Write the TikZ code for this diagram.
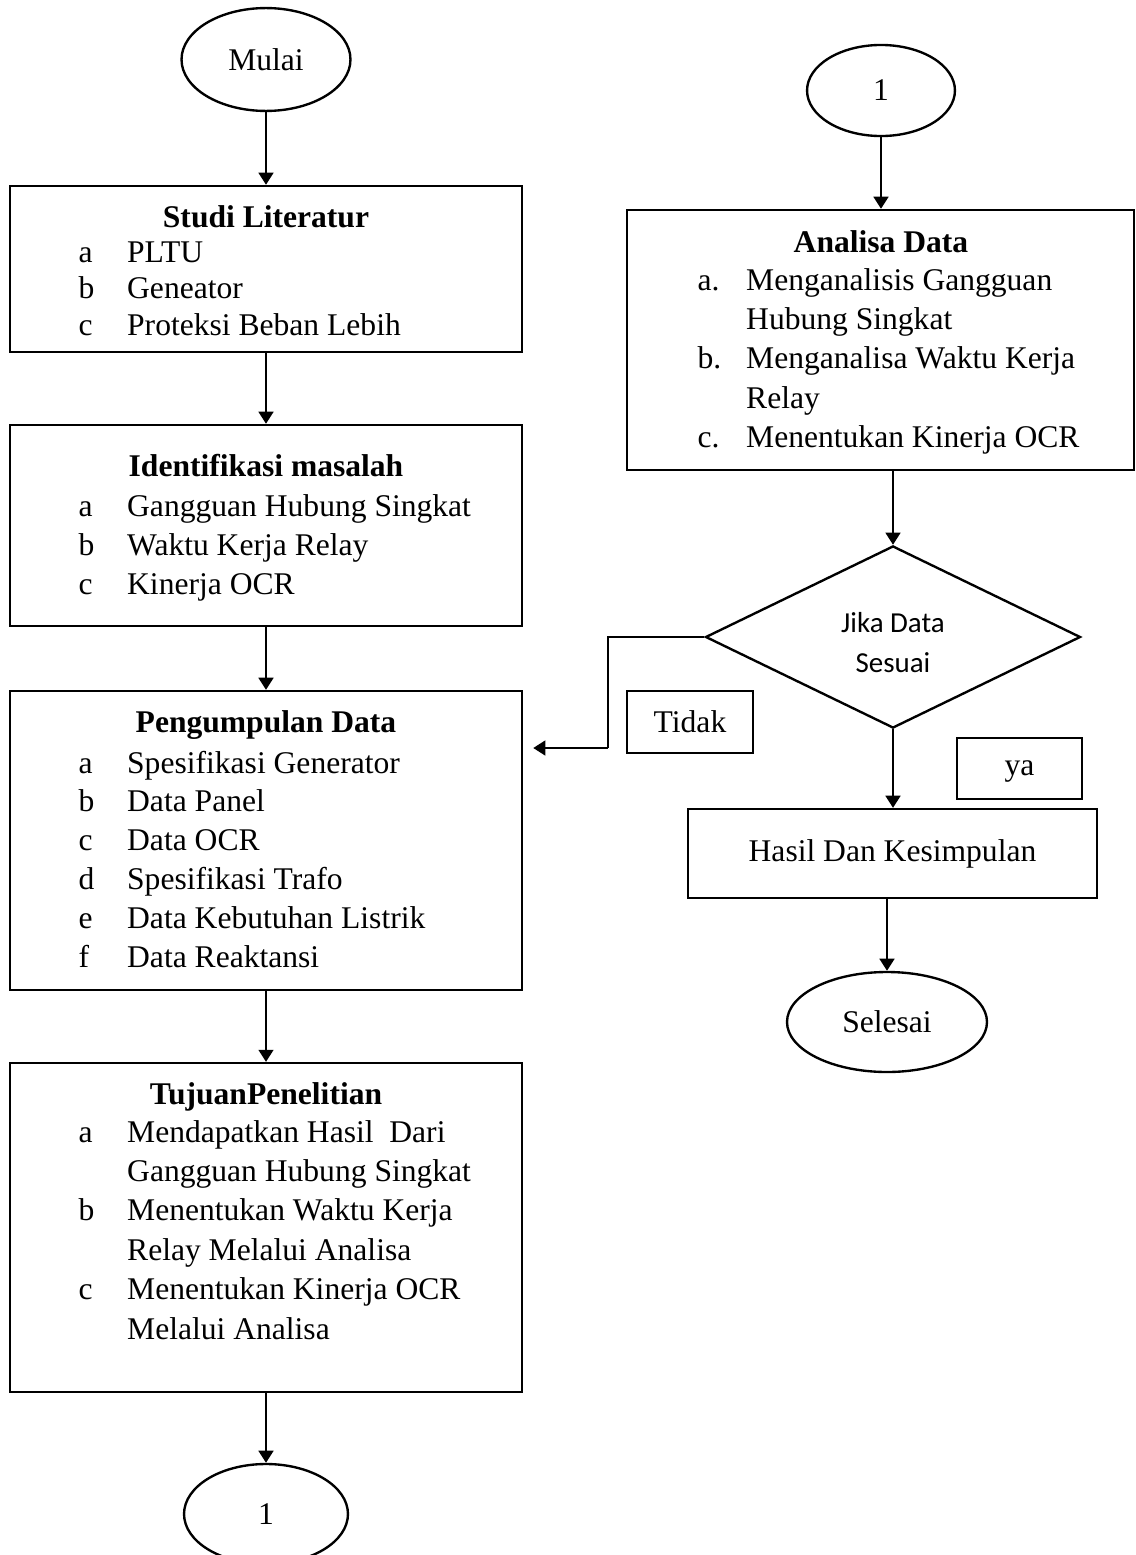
\documentclass[tikz,border=0pt]{standalone}
\usepackage{fontspec}
\setmainfont{Liberation Serif}
\newfontfamily\calibrifont{Carlito}
\usetikzlibrary{positioning,arrows.meta,shapes.geometric,calc}
\tikzset{
  procbox/.style={draw,line width=0.9pt,rectangle,inner sep=0pt,minimum width=194.6pt},
  termnode/.style={draw,line width=0.9pt,ellipse,inner sep=0pt,font=\fontsize{12}{14}\selectfont},
  decnode/.style={draw,line width=0.9pt,diamond,inner sep=0pt,align=center,font=\calibrifont\fontsize{11}{15.2}\selectfont},
  tagbox/.style={draw,line width=0.9pt,rectangle,inner sep=0pt,font=\fontsize{12}{14}\selectfont},
  boxtitle/.style={anchor=base,inner sep=0pt,font=\fontsize{12}{14}\selectfont\bfseries},
  boxlist/.style={anchor=base west,inner sep=0pt,font=\fontsize{12}{#1}\selectfont},
  flowarrow/.style={-{Triangle[length=4.6pt,width=5.6pt]},line width=0.9pt},
  backline/.style={line width=0.4pt}
}
\newcommand{\itemrows}[1]{\begin{tabular}[t]{@{}p{18.5pt}@{}l@{}}#1\end{tabular}}

\begin{document}
\begin{tikzpicture}[x=0.38pt,y=-0.38pt]
  \useasboundingbox (0,0) rectangle (1136,1555);
  % left column
  \node[termnode,minimum width=64.2pt,minimum height=39.1pt] (mulai) at (266,59.5) {Mulai};
  \node[procbox,minimum height=63.1pt] (studi) at (266,269) {};
  \node[boxtitle] (studititle) at (266,227) {Studi Literatur};
  \node[boxlist=13.9pt] (studilist) at (78,262) {\itemrows{a & PLTU\\ b & Geneator\\ c & Proteksi Beban Lebih}};
  \node[procbox,minimum height=76.4pt] (ident) at (266,525.5) {};
  \node[boxtitle] (identtitle) at (266,476) {Identifikasi masalah};
  \node[boxlist=15pt] (identlist) at (78,516) {\itemrows{a & Gangguan Hubung Singkat\\ b & Waktu Kerja Relay\\ c & Kinerja OCR}};
  \node[procbox,minimum height=113.6pt] (kumpul) at (266,840.5) {};
  \node[boxtitle] (kumpultitle) at (266,732) {Pengumpulan Data};
  \node[boxlist=14.8pt] (kumpullist) at (78,773) {\itemrows{a & Spesifikasi Generator\\ b & Data Panel\\ c & Data OCR\\ d & Spesifikasi Trafo\\ e & Data Kebutuhan Listrik\\ f & Data Reaktansi}};
  \node[procbox,minimum height=125pt] (tujuan) at (266,1227.5) {};
  \node[boxtitle] (tujuantitle) at (266,1104) {TujuanPenelitian};
  \node[boxlist=15pt] (tujuanlist) at (78,1142) {\itemrows{a & Mendapatkan Hasil~ Dari\\ & Gangguan Hubung Singkat\\ b & Menentukan Waktu Kerja\\ & Relay Melalui Analisa\\ c & Menentukan Kinerja OCR\\ & Melalui Analisa}};
  \node[termnode,minimum width=62.3pt,minimum height=38pt] (sambung) at (266,1514) {1};
  % right column
  \node[termnode,minimum width=56.2pt,minimum height=34.6pt] (lanjut) at (881,90.5) {1};
  \node[procbox,minimum width=192.7pt,minimum height=98.8pt] (analisa) at (880.5,340) {};
  \node[boxtitle] (analisatitle) at (881,252) {Analisa Data};
  \node[boxlist=15pt] (analisalist) at (697,290) {\itemrows{a. & Menganalisis Gangguan\\ & Hubung Singkat\\ b. & Menganalisa Waktu Kerja\\ & Relay\\ c. & Menentukan Kinerja OCR}};
  \node[decnode,minimum width=142.5pt,minimum height=69.2pt] (cek) at (893,637) {\rule{0pt}{12pt}Jika Data\\Sesuai};
  \node[tagbox,minimum width=47.9pt,minimum height=23.6pt] (tidak) at (690,722) {Tidak};
  \node[tagbox,minimum width=47.5pt,minimum height=23.2pt,text depth=0pt] (ya) at (1019.5,768.5) {ya};
  \node[procbox,minimum width=155.4pt,minimum height=33.8pt,font=\fontsize{12}{14}\selectfont] (hasil) at (892.5,853.5) {Hasil Dan Kesimpulan};
  \node[termnode,minimum width=76pt,minimum height=38pt] (selesai) at (887,1022) {Selesai};
  \coordinate (tidakbend) at (608,748);
  \coordinate (tidakend) at ($(kumpul.east |- tidakbend)+(10,0)$);
  \draw[flowarrow] (mulai) -- (studi);
  \draw[flowarrow] (studi) -- (ident);
  \draw[flowarrow] (ident) -- (kumpul);
  \draw[flowarrow] (kumpul) -- (tujuan);
  \draw[flowarrow] (tujuan) -- (sambung);
  \draw[flowarrow] (lanjut.south) -- (lanjut.south |- analisa.north);
  \draw[flowarrow] (analisa.south -| cek.north) -- (cek.north);
  \draw[backline] (cek.west) -| (tidakbend);
  \draw[flowarrow] (tidakbend) -- (tidakend);
  \draw[flowarrow] (cek.south) -- (cek.south |- hasil.north);
  \draw[flowarrow] (hasil.south -| selesai.north) -- (selesai.north);
\end{tikzpicture}
\end{document}
